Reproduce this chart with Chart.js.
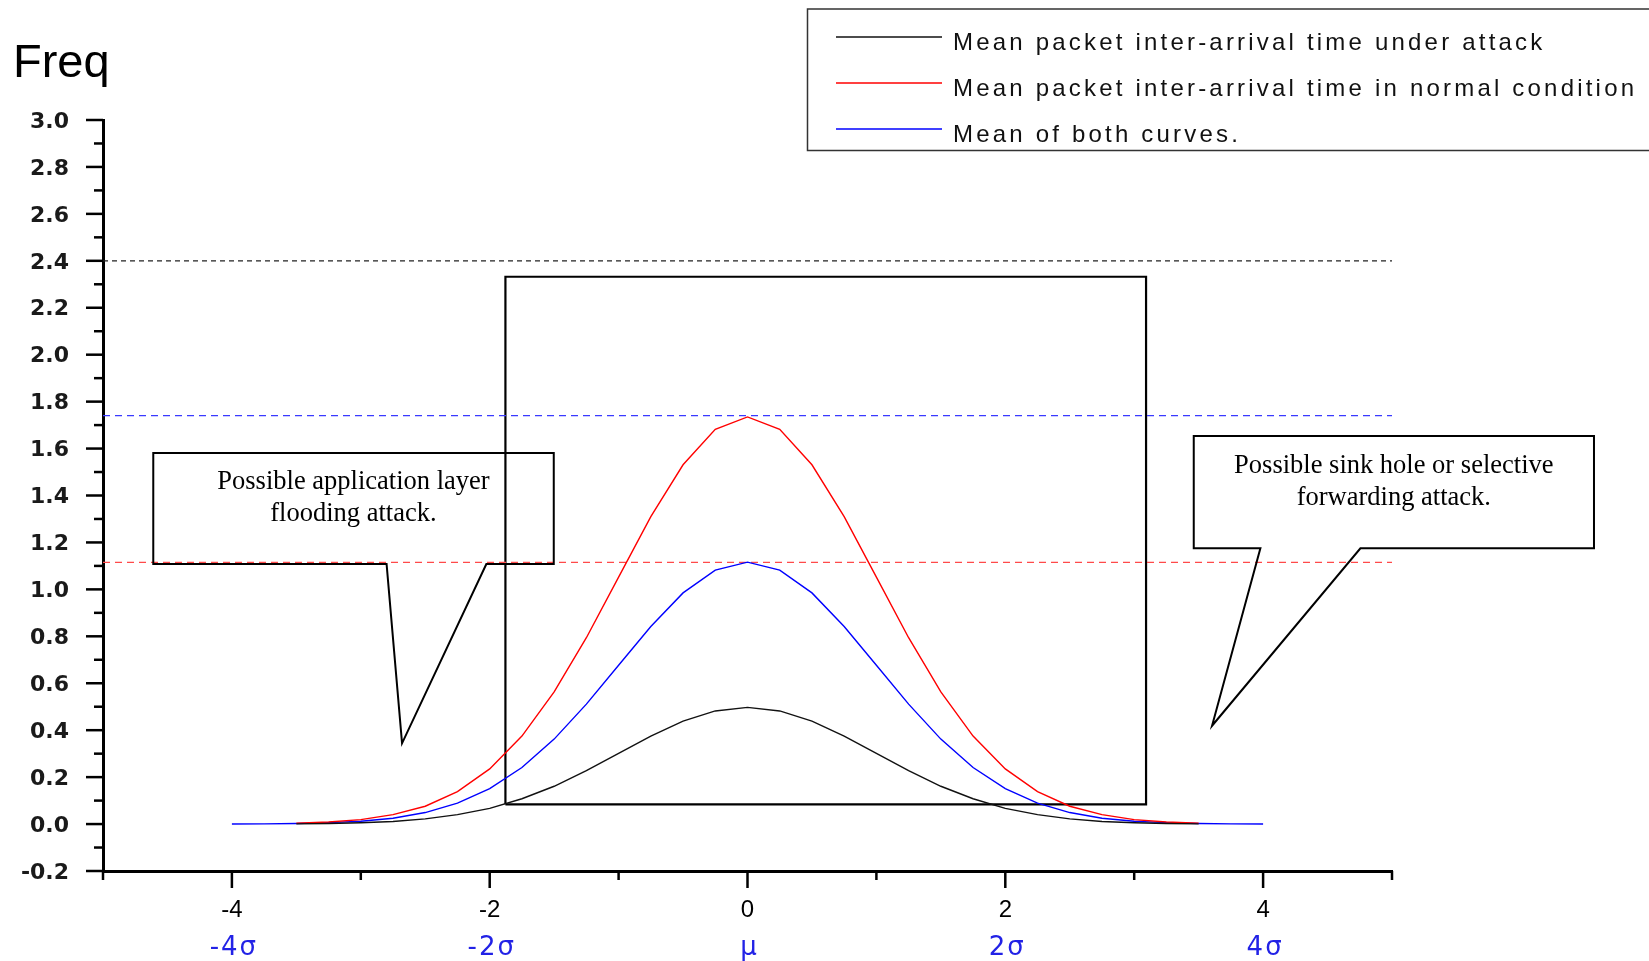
<!DOCTYPE html>
<html>
<head>
<meta charset="utf-8">
<script src="https://cdn.jsdelivr.net/npm/chart.js@4.4.1/dist/chart.umd.min.js"></script>
<style>
html,body{margin:0;padding:0;background:#fff;}
#wrap{width:1649px;height:961px;position:relative;}
</style>
</head>
<body>
<div id="wrap"><canvas id="c" width="1649" height="961"></canvas></div>
<script>
// ---------------- DATA ----------------
const xValues = [-4,-3.75,-3.5,-3.25,-3,-2.75,-2.5,-2.25,-2,-1.75,-1.5,-1.25,-1,-0.75,-0.5,-0.25,0,
                 0.25,0.5,0.75,1,1.25,1.5,1.75,2,2.25,2.5,2.75,3,3.25,3.5,3.75,4];

const seriesNames = [
  'Mean packet inter-arrival time under attack',
  'Mean packet inter-arrival time in normal condition',
  'Mean of both curves.'
];

const underAttack = [null,null,0.001,0.0025,0.0055,0.011,0.022,0.040,0.067,0.108,0.161,0.228,0.301,0.375,0.439,0.482,0.497,
                     0.482,0.439,0.375,0.301,0.228,0.161,0.108,0.067,0.040,0.022,0.011,0.0055,0.0025,0.001,null,null];

const normalCondition = [null,null,0.004,0.009,0.019,0.040,0.076,0.138,0.235,0.375,0.563,0.794,1.052,1.310,1.531,1.682,1.735,
                         1.682,1.531,1.310,1.052,0.794,0.563,0.375,0.235,0.138,0.076,0.040,0.019,0.009,0.004,null,null];

const meanOfBoth = [0.0004,0.001,0.0025,0.006,0.012,0.025,0.049,0.089,0.151,0.241,0.362,0.511,0.677,0.842,0.985,1.082,1.116,
                    1.082,0.985,0.842,0.677,0.511,0.362,0.241,0.151,0.089,0.049,0.025,0.012,0.006,0.0025,0.001,0.0004];

const thresholdLevels = [2.4, 1.74, 1.115];          // black, blue, red dashed levels
const thresholdSpan = [-5, 5];
const boxXRange = [-1.878, 3.092];
const boxYRange = [0.084, 2.332];

const xTickValues = [-4,-2,0,2,4];
const xTickLabels = ['-4','-2','0','2','4'];
const sigmaLabels = ['-4σ','-2σ','μ','2σ','4σ'];
const yTickValues = [-0.2,0,0.2,0.4,0.6,0.8,1.0,1.2,1.4,1.6,1.8,2.0,2.2,2.4,2.6,2.8,3.0];
const yTickLabels = ['-0.2','0.0','0.2','0.4','0.6','0.8','1.0','1.2','1.4','1.6','1.8','2.0','2.2','2.4','2.6','2.8','3.0'];

const calloutTexts = [
  ['Possible application layer','flooding attack.'],
  ['Possible sink hole or selective','forwarding attack.']
];

// ---------------- BUILD ----------------
function toPoints(ys){
  const pts=[];
  xValues.forEach((x,i)=>{ if(ys[i]!==null) pts.push({x:x,y:ys[i]}); });
  return pts;
}
const curveColors = ['#111111','#ff0000','#0000ff'];
const curveSeries = [underAttack, normalCondition, meanOfBoth];
const thresholdStyles = [
  {color:'#222222', dash:[5,4]},
  {color:'#3a3aff', dash:[7,5]},
  {color:'#ff4a4a', dash:[7,5]}
];

const datasets = [];
curveSeries.forEach((s,i)=>{
  datasets.push({label:seriesNames[i], legendEntry:true, data:toPoints(s),
    borderColor:curveColors[i], borderWidth:1.4, showLine:true, pointRadius:0, fill:false, tension:0});
});
thresholdLevels.forEach((lv,i)=>{
  datasets.push({label:'level'+i, data:[{x:thresholdSpan[0],y:lv},{x:thresholdSpan[1],y:lv}],
    borderColor:thresholdStyles[i].color, borderDash:thresholdStyles[i].dash, borderWidth:1.3,
    showLine:true, pointRadius:0, fill:false});
});
datasets.push({label:'region', data:[
    {x:boxXRange[0],y:boxYRange[0]},{x:boxXRange[0],y:boxYRange[1]},
    {x:boxXRange[1],y:boxYRange[1]},{x:boxXRange[1],y:boxYRange[0]},
    {x:boxXRange[0],y:boxYRange[0]}],
  borderColor:'#000', borderWidth:2.2, showLine:true, pointRadius:0, fill:false, tension:0});

// callout geometry in data coordinates
const callouts = [
  {text:calloutTexts[0], left:-4.61, right:-1.503, top:1.581, bottom:1.108,
   pLeft:-2.80, pRight:-2.026, tipX:-2.68, tipY:0.344, cx:-3.057, base:[1.427,1.292]},
  {text:calloutTexts[1], left:3.462, right:6.567, top:1.653, bottom:1.175,
   pLeft:3.979, pRight:4.755, tipX:3.604, tipY:0.419, cx:5.014, base:[1.497,1.359]}
];

const decor = {
  id:'decor',
  beforeDraw(chart){
    const c=chart.ctx; c.save(); c.fillStyle='#fff'; c.fillRect(0,0,chart.width,chart.height); c.restore();
  },
  afterDraw(chart){
    const c=chart.ctx, xs=chart.scales.x, ys=chart.scales.y, ca=chart.chartArea;
    c.save();
    // tick marks
    c.strokeStyle='#000'; c.lineWidth=2.5; c.lineCap='butt';
    const isMajor=(v,arr)=>arr.some(a=>Math.abs(a-v)<1e-6);
    const xStep=(xTickValues[1]-xTickValues[0])/2;
    for(let v=xs.min; v<=xs.max+1e-9; v+=xStep){
      const px=xs.getPixelForValue(v);
      const len=isMajor(v,xTickValues)?17:9;
      c.beginPath(); c.moveTo(px,ca.bottom); c.lineTo(px,ca.bottom+len); c.stroke();
    }
    const yStep=(yTickValues[1]-yTickValues[0])/2;
    for(let v=ys.min; v<=ys.max+1e-9; v+=yStep){
      const py=ys.getPixelForValue(v);
      const len=isMajor(v,yTickValues)?17:9;
      c.beginPath(); c.moveTo(ca.left,py); c.lineTo(ca.left-len,py); c.stroke();
    }
    // sigma labels
    c.fillStyle='#2222e6'; c.font='26px "DejaVu Sans"'; c.textAlign='center'; c.textBaseline='alphabetic';
    try{ c.letterSpacing='2px'; }catch(e){}
    sigmaLabels.forEach((t,i)=>{
      c.fillText(t, xs.getPixelForValue(xTickValues[i])+2, 955);
    });
    try{ c.letterSpacing='0px'; }catch(e){}
    // Freq title
    c.fillStyle='#000'; c.font='47px "Liberation Sans"'; c.textAlign='left';
    c.fillText('Freq', 13, 77);
    // legend
    c.strokeStyle='#333'; c.lineWidth=1.5;
    c.strokeRect(807.5, 9, 900, 141.5);
    const items = chart.data.datasets.filter(d=>d.legendEntry);
    c.font='24px "Liberation Sans"'; c.fillStyle='#111';
    try{ c.letterSpacing='3.2px'; }catch(e){}
    items.forEach((d,i)=>{
      const ly=37+46*i;
      c.strokeStyle=d.borderColor; c.lineWidth=1.3;
      c.beginPath(); c.moveTo(836,ly); c.lineTo(942,ly); c.stroke();
      c.fillText(d.label, 953, ly+12.5);
    });
    try{ c.letterSpacing='0px'; }catch(e){}
    // callouts
    c.strokeStyle='#000'; c.lineWidth=2; c.lineJoin='miter';
    callouts.forEach(o=>{
      const X=v=>xs.getPixelForValue(v), Y=v=>ys.getPixelForValue(v);
      c.beginPath();
      c.moveTo(X(o.left),Y(o.bottom));
      c.lineTo(X(o.left),Y(o.top));
      c.lineTo(X(o.right),Y(o.top));
      c.lineTo(X(o.right),Y(o.bottom));
      c.lineTo(X(o.pRight),Y(o.bottom));
      c.lineTo(X(o.tipX),Y(o.tipY));
      c.lineTo(X(o.pLeft),Y(o.bottom));
      c.closePath(); c.stroke();
      c.fillStyle='#000'; c.font='26.5px "Liberation Serif"'; c.textAlign='center';
      o.text.forEach((t,i)=>c.fillText(t, X(o.cx), Y(o.base[i])));
    });
    c.restore();
  }
};

new Chart(document.getElementById('c'), {
  type:'scatter',
  data:{datasets:datasets},
  options:{
    responsive:false, animation:false, devicePixelRatio:1,
    layout:{padding:{left:0, top:120, right:257, bottom:0}, autoPadding:false},
    plugins:{legend:{display:false}, tooltip:{enabled:false}, title:{display:false}},
    scales:{
      x:{type:'linear', min:-5, max:5,
         afterFit(s){ s.height=90; },
         afterBuildTicks(s){ s.ticks = xTickValues.map(v=>({value:v})); },
         grid:{display:false, drawTicks:false, tickLength:0},
         border:{display:true, color:'#000', width:3},
         ticks:{autoSkip:false, maxRotation:0, padding:25, color:'#000',
                font:{family:'Liberation Sans', size:24},
                callback:(v,i)=>xTickLabels[i]}
      },
      y:{type:'linear', min:-0.2, max:3.0,
         afterFit(s){ s.width=103; },
         afterBuildTicks(s){ s.ticks = yTickValues.map(v=>({value:v})); },
         grid:{display:false, drawTicks:false, tickLength:0},
         border:{display:true, color:'#000', width:3},
         ticks:{autoSkip:false, padding:34, labelOffset:2, color:'#1a1a1a',
                font:{family:'DejaVu Sans', size:22, weight:'bold'},
                callback:(v,i)=>yTickLabels[i]}
      }
    }
  },
  plugins:[decor]
});
</script>
</body>
</html>
